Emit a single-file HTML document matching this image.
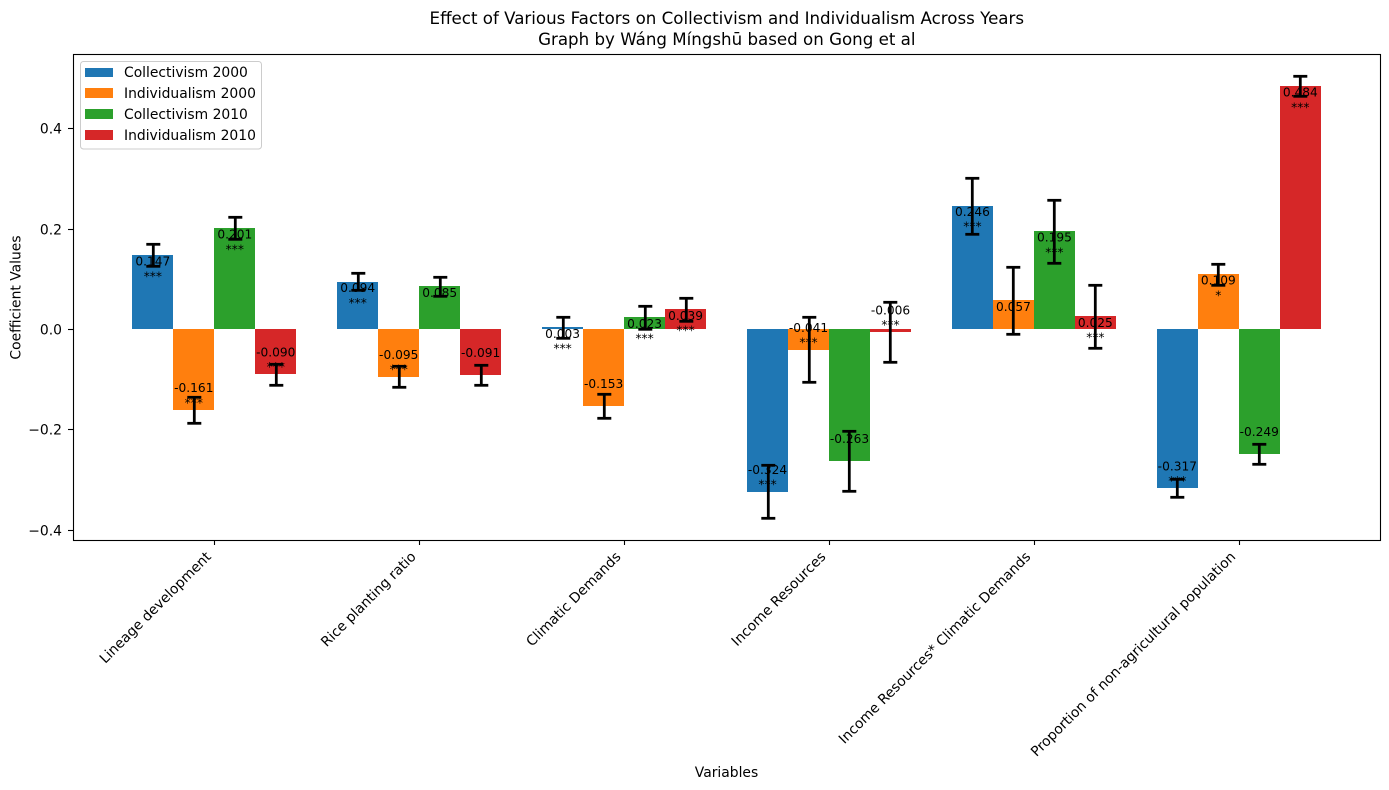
<!DOCTYPE html>
<html lang="en">
<head>
<meta charset="utf-8">
<title>Effect of Various Factors on Collectivism and Individualism Across Years</title>
<style>
html,body{margin:0;padding:0;background:#fff;}
svg{display:block;font-family:"DejaVu Sans","Liberation Sans",sans-serif;fill:#000;}
text{fill:#000;}
.crisp{shape-rendering:crispEdges;}
</style>
</head>
<body>
<svg id="chart" xmlns="http://www.w3.org/2000/svg" width="1389" height="790" viewBox="0 0 1389 790">
  <rect x="0" y="0" width="1389" height="790" fill="#fff"/>
  <text x="726.8" y="24" font-size="16.67" text-anchor="middle">Effect of Various Factors on Collectivism and Individualism Across Years</text>
  <text x="726.8" y="45" font-size="16.67" text-anchor="middle">Graph by Wáng Míngshū based on Gong et al</text>
  <g id="plot"></g>
  <g id="xticks"></g>
  <g id="yticks"></g>
  <rect x="73.5" y="54.5" width="1307" height="486" fill="none" stroke="#000" stroke-width="1.1"/>
  <text x="726.5" y="777" font-size="13.89" text-anchor="middle">Variables</text>
  <text transform="translate(20.5,297.5) rotate(-90)" font-size="13.89" text-anchor="middle">Coefficient Values</text>
  <g>
    <rect x="80.5" y="61.5" width="181" height="87.5" rx="3" ry="3" fill="#fff" fill-opacity="0.8" stroke="#ccc" stroke-width="1"/>
    <g>
      <rect class="crisp" x="85" y="68" width="28" height="9" fill="#1f77b4"/>
      <text x="124" y="77" font-size="13.89">Collectivism 2000</text>
    </g>
    <g>
      <rect class="crisp" x="85" y="88" width="28" height="10" fill="#ff7f0e"/>
      <text x="124" y="98" font-size="13.89">Individualism 2000</text>
    </g>
    <g>
      <rect class="crisp" x="85" y="109" width="28" height="10" fill="#2ca02c"/>
      <text x="124" y="119" font-size="13.89">Collectivism 2010</text>
    </g>
    <g>
      <rect class="crisp" x="85" y="130" width="28" height="10" fill="#d62728"/>
      <text x="124" y="140" font-size="13.89">Individualism 2010</text>
    </g>
  </g>
</svg>
<script>
const categories = ["Lineage development","Rice planting ratio","Climatic Demands","Income Resources","Income Resources* Climatic Demands","Proportion of non-agricultural population"];
const seriesNames = ["collectivism-2000","individualism-2000","collectivism-2010","individualism-2010"];
const collectivism2000 = [0.147,0.094,0.003,-0.324,0.246,-0.317];
const individualism2000 = [-0.161,-0.095,-0.153,-0.041,0.057,0.109];
const collectivism2010 = [0.201,0.085,0.023,-0.263,0.195,-0.249];
const individualism2010 = [-0.090,-0.091,0.039,-0.006,0.025,0.484];
const errCollectivism2000 = [0.022,0.017,0.021,0.053,0.056,0.017];
const errIndividualism2000 = [0.026,0.021,0.024,0.064,0.067,0.021];
const errCollectivism2010 = [0.022,0.019,0.023,0.060,0.063,0.020];
const errIndividualism2010 = [0.021,0.020,0.023,0.060,0.063,0.020];
const starsCollectivism2000 = ["***","***","***","***","***","***"];
const starsIndividualism2000 = ["***","***","","***","","*"];
const starsCollectivism2010 = ["***","","***","","***",""];
const starsIndividualism2010 = ["***","","***","***","***","***"];
const yTickValues = [-0.4,-0.2,0,0.2,0.4];
const seriesColors = ["#1f77b4","#ff7f0e","#2ca02c","#d62728"];

const allValues = [collectivism2000,individualism2000,collectivism2010,individualism2010];
const allErrors = [errCollectivism2000,errIndividualism2000,errCollectivism2010,errIndividualism2010];
const allStars = [starsCollectivism2000,starsIndividualism2000,starsCollectivism2010,starsIndividualism2010];

const NS = "http://www.w3.org/2000/svg";
const xAxis = function(c){ return 214.3 + 204.9 * c; };
const yAxis = function(v){ return 329 - 501.6 * v; };
const BAR_UNITS = 0.2;
const barW = 204.9 * BAR_UNITS;
const ERR_WIDTH = 2.78;
const plot = document.getElementById("plot");
const xticks = document.getElementById("xticks");
const yticks = document.getElementById("yticks");

function make(tag, parent){
  const el = document.createElementNS(NS, tag);
  parent.appendChild(el);
  return el;
}
function setAll(el, props){
  for (const k in props) el.setAttribute(k, props[k]);
}

/* bars */
allValues.forEach(function(vals, s){
  vals.forEach(function(v, c){
    const left = Math.round(xAxis(c) + (s - 2) * barW);
    const right = Math.round(xAxis(c) + (s - 1) * barW);
    const y0 = Math.round(yAxis(0));
    const y1 = Math.round(yAxis(v));
    const bar = make("rect", plot);
    
    
    setAll(bar, {x:left, y:Math.min(y0,y1), width:right-left, height:Math.max(Math.abs(y1-y0),1), fill:seriesColors[s], "class":"crisp"});
  });
});

/* error bars */
allValues.forEach(function(vals, s){
  vals.forEach(function(v, c){
    const cx = Math.round(xAxis(c) + (s - 1.5) * barW) + 0.3;
    const e = allErrors[s][c];
    const top = Math.round(yAxis(v + e)) + 0.3;
    const bottom = Math.round(yAxis(v - e)) + 0.3;
    const stem = make("line", plot);
    
    
    setAll(stem, {x1:cx, x2:cx, y1:top, y2:bottom, stroke:"#000", "stroke-width":ERR_WIDTH});
    const capTop = make("line", plot);
    
    
    setAll(capTop, {x1:cx-7, x2:cx+7, y1:top, y2:top, stroke:"#000", "stroke-width":ERR_WIDTH});
    const capBottom = make("line", plot);
    
    
    setAll(capBottom, {x1:cx-7, x2:cx+7, y1:bottom, y2:bottom, stroke:"#000", "stroke-width":ERR_WIDTH});
  });
});

/* value labels and significance stars */
allValues.forEach(function(vals, s){
  vals.forEach(function(v, c){
    const cx = xAxis(c) + (s - 1.5) * barW;
    const yv = yAxis(v);
    const base = v >= 0 ? yv + 10.4 : yv - 17.7;
    const label = make("text", plot);
    
    
    setAll(label, {x:cx, y:base, "font-size":12.2, "text-anchor":"middle"});
    label.textContent = v.toFixed(3);
    if (allStars[s][c]) {
      const star = make("text", plot);
      
      
      setAll(star, {x:cx, y:base + 14.7, "font-size":12.2, "text-anchor":"middle"});
      star.textContent = allStars[s][c];
    }
  });
});

/* x ticks */
categories.forEach(function(name, c){
  const x = xAxis(c);
  const tx = Math.round(x) + 0.5;
  const tick = make("line", xticks);
  
  
  setAll(tick, {x1:tx, x2:tx, y1:540, y2:545, stroke:"#000", "stroke-width":1.1});
  const label = make("text", xticks);
  
  
  setAll(label, {transform:"translate("+(x-2.5)+",557.5) rotate(-45)", "font-size":13.89, "text-anchor":"end"});
  label.textContent = name;
});

/* y ticks */
yTickValues.forEach(function(v){
  const y = Math.round(yAxis(v));
  const tick = make("line", yticks);
  
  
  setAll(tick, {x1:68, x2:73, y1:y+0.5, y2:y+0.5, stroke:"#000", "stroke-width":1.1});
  const label = make("text", yticks);
  
  
  setAll(label, {x:62, y:y+5.7, "font-size":13.89, "text-anchor":"end"});
  label.textContent = (v < 0 ? "\u2212" : "") + Math.abs(v).toFixed(1);
});
</script>
</body>
</html>
